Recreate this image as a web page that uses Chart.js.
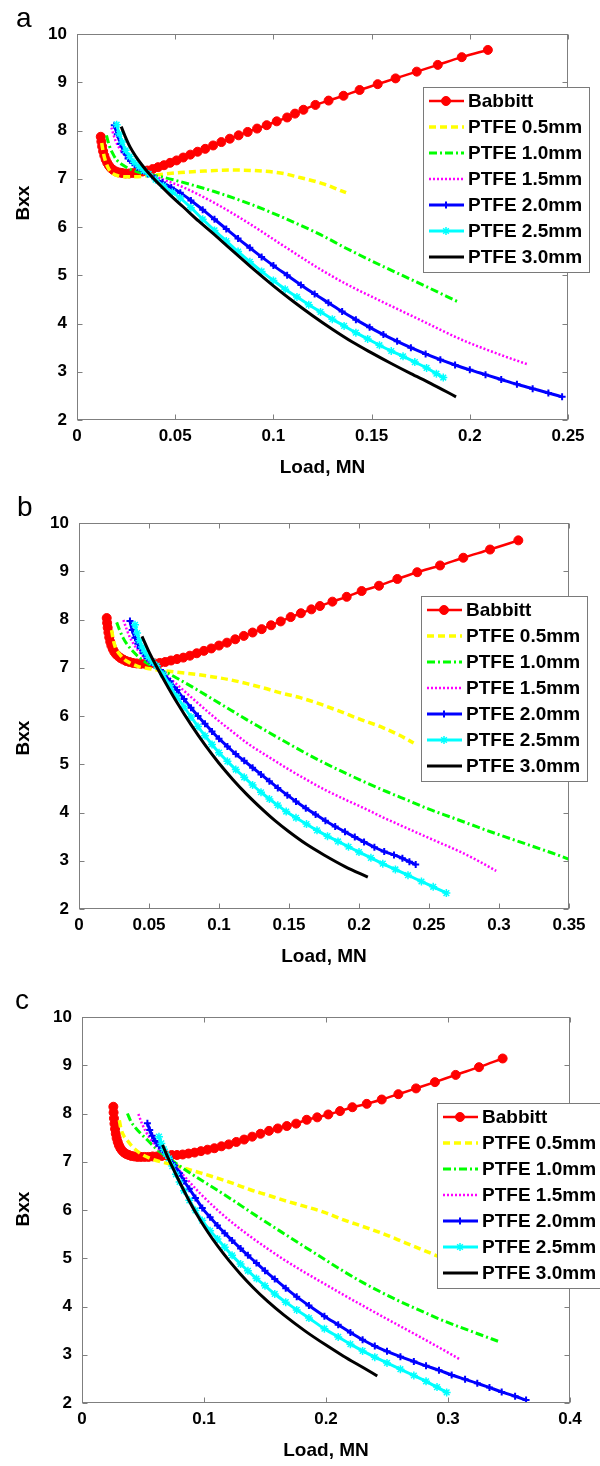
<!DOCTYPE html>
<html>
<head>
<meta charset="utf-8">
<title>Bxx vs Load</title>
<script src="https://cdn.jsdelivr.net/npm/chart.js@4.4.1/dist/chart.umd.min.js"></script>
<style>
  html, body { margin: 0; padding: 0; background: #fff; }
  .panel { position: absolute; left: 0; width: 600px; }
  canvas { display: block; }
</style>
</head>
<body>
<div class="panel" style="top:0px"><canvas id="chart-a" width="600" height="489"></canvas></div>
<div class="panel" style="top:489px"><canvas id="chart-b" width="600" height="489"></canvas></div>
<div class="panel" style="top:978px"><canvas id="chart-c" width="600" height="488"></canvas></div>
<script>
// Series names and tick labels
const seriesNames = ['Babbitt', 'PTFE 0.5mm', 'PTFE 1.0mm', 'PTFE 1.5mm', 'PTFE 2.0mm', 'PTFE 2.5mm', 'PTFE 3.0mm'];
const yTicks = ['2', '3', '4', '5', '6', '7', '8', '9', '10'];
const xTicksA = ['0', '0.05', '0.1', '0.15', '0.2', '0.25'];
const xTicksB = ['0', '0.05', '0.1', '0.15', '0.2', '0.25', '0.3', '0.35'];
const xTicksC = ['0', '0.1', '0.2', '0.3', '0.4'];

// Panel a: [load MN, Bxx]
const babbittA = [[0.0121,7.87],[0.0124,7.77],[0.0128,7.67],[0.0133,7.57],[0.0139,7.48],[0.0146,7.40],[0.0154,7.33],[0.0163,7.27],[0.0173,7.22],[0.0185,7.18],[0.0198,7.15],[0.0213,7.13],[0.0229,7.12],[0.0247,7.11],[0.0266,7.11],[0.0287,7.12],[0.0309,7.13],[0.0333,7.15],[0.0358,7.17],[0.0385,7.20],[0.0413,7.24],[0.0443,7.28],[0.0474,7.33],[0.0507,7.38],[0.0541,7.44],[0.0577,7.50],[0.0614,7.56],[0.0653,7.62],[0.0693,7.69],[0.0735,7.76],[0.0778,7.83],[0.0823,7.90],[0.0869,7.97],[0.0917,8.04],[0.0966,8.11],[0.1017,8.19],[0.1070,8.27],[0.1110,8.35],[0.1153,8.43],[0.1214,8.53],[0.1281,8.62],[0.1357,8.72],[0.1439,8.84],[0.1531,8.96],[0.1622,9.08],[0.1730,9.22],[0.1837,9.36],[0.1959,9.52],[0.2092,9.67]];
const ptfe05A = [[0.0126,7.74],[0.0135,7.52],[0.0148,7.33],[0.0165,7.18],[0.0185,7.10],[0.0210,7.06],[0.0250,7.04],[0.0300,7.04],[0.0355,7.06],[0.0450,7.10],[0.0526,7.13],[0.0650,7.16],[0.0780,7.18],[0.0900,7.17],[0.1036,7.12],[0.1140,7.02],[0.1250,6.90],[0.1370,6.71]];
const ptfe10A = [[0.0150,7.90],[0.0165,7.68],[0.0185,7.50],[0.0202,7.39],[0.0235,7.28],[0.0270,7.20],[0.0310,7.14],[0.0355,7.10],[0.0440,7.03],[0.0526,6.94],[0.0695,6.74],[0.0866,6.50],[0.1036,6.22],[0.1240,5.84],[0.1370,5.56],[0.1560,5.18],[0.1760,4.80],[0.1940,4.45]];
const ptfe15A = [[0.0175,8.06],[0.0195,7.80],[0.0215,7.64],[0.0236,7.52],[0.0270,7.36],[0.0310,7.24],[0.0360,7.12],[0.0440,6.98],[0.0526,6.85],[0.0695,6.51],[0.0866,6.10],[0.1040,5.64],[0.1240,5.12],[0.1370,4.82],[0.1560,4.44],[0.1760,4.05],[0.1950,3.68],[0.2150,3.36],[0.2290,3.16]];
const ptfe20A = [[0.0190,8.11],[0.0205,7.92],[0.0222,7.72],[0.0240,7.55],[0.0260,7.42],[0.0282,7.33],[0.0306,7.24],[0.0332,7.17],[0.0360,7.10],[0.0395,7.01],[0.0435,6.92],[0.0480,6.82],[0.0526,6.71],[0.0580,6.55],[0.0640,6.36],[0.0700,6.16],[0.0760,5.96],[0.0820,5.76],[0.0880,5.57],[0.0940,5.38],[0.1000,5.20],[0.1070,5.00],[0.1140,4.80],[0.1210,4.61],[0.1280,4.43],[0.1350,4.25],[0.1420,4.08],[0.1490,3.92],[0.1560,3.77],[0.1630,3.63],[0.1700,3.50],[0.1775,3.37],[0.1850,3.25],[0.1925,3.14],[0.2000,3.04],[0.2080,2.94],[0.2160,2.84],[0.2240,2.74],[0.2320,2.65],[0.2400,2.56],[0.2470,2.48]];
const ptfe25A = [[0.0202,8.12],[0.0215,7.93],[0.0230,7.76],[0.0248,7.59],[0.0268,7.46],[0.0290,7.34],[0.0315,7.25],[0.0340,7.17],[0.0365,7.10],[0.0400,6.98],[0.0440,6.85],[0.0485,6.72],[0.0526,6.60],[0.0580,6.40],[0.0640,6.16],[0.0700,5.93],[0.0760,5.71],[0.0820,5.49],[0.0880,5.28],[0.0940,5.08],[0.1000,4.89],[0.1060,4.71],[0.1120,4.55],[0.1180,4.39],[0.1240,4.24],[0.1300,4.09],[0.1360,3.95],[0.1420,3.81],[0.1480,3.68],[0.1540,3.55],[0.1600,3.43],[0.1660,3.32],[0.1720,3.20],[0.1780,3.08],[0.1830,2.96],[0.1865,2.88]];
const ptfe30A = [[0.0225,8.08],[0.0245,7.88],[0.0270,7.66],[0.0300,7.46],[0.0330,7.29],[0.0362,7.13],[0.0420,6.88],[0.0480,6.64],[0.0540,6.42],[0.0620,6.12],[0.0700,5.84],[0.0800,5.48],[0.0900,5.12],[0.1000,4.78],[0.1100,4.46],[0.1200,4.16],[0.1300,3.88],[0.1400,3.62],[0.1500,3.39],[0.1600,3.17],[0.1700,2.96],[0.1800,2.76],[0.1930,2.48]];

// Panel b
const babbittB = [[0.0198,8.03],[0.0201,7.93],[0.0205,7.83],[0.0210,7.73],[0.0216,7.63],[0.0223,7.54],[0.0231,7.46],[0.0241,7.39],[0.0252,7.33],[0.0265,7.28],[0.0280,7.24],[0.0297,7.20],[0.0316,7.17],[0.0337,7.14],[0.0360,7.12],[0.0385,7.10],[0.0412,7.09],[0.0441,7.08],[0.0472,7.08],[0.0505,7.08],[0.0540,7.09],[0.0577,7.10],[0.0616,7.12],[0.0657,7.15],[0.0700,7.18],[0.0745,7.21],[0.0792,7.25],[0.0841,7.30],[0.0892,7.35],[0.0945,7.40],[0.1000,7.46],[0.1057,7.52],[0.1116,7.59],[0.1177,7.66],[0.1240,7.73],[0.1305,7.80],[0.1372,7.88],[0.1441,7.96],[0.1512,8.05],[0.1585,8.13],[0.1660,8.21],[0.1721,8.28],[0.1810,8.37],[0.1912,8.47],[0.2019,8.59],[0.2143,8.70],[0.2274,8.84],[0.2416,8.98],[0.2579,9.12],[0.2745,9.28],[0.2936,9.45],[0.3138,9.64]];
const ptfe05B = [[0.0233,7.78],[0.0245,7.58],[0.0260,7.42],[0.0290,7.28],[0.0325,7.17],[0.0364,7.10],[0.0420,7.03],[0.0483,6.99],[0.0600,6.94],[0.0720,6.90],[0.0840,6.86],[0.0960,6.81],[0.1080,6.75],[0.1200,6.67],[0.1320,6.58],[0.1440,6.48],[0.1580,6.38],[0.1720,6.25],[0.1860,6.10],[0.2000,5.94],[0.2170,5.76],[0.2290,5.60],[0.2390,5.44]];
const ptfe10B = [[0.0269,7.94],[0.0290,7.78],[0.0315,7.62],[0.0340,7.50],[0.0385,7.34],[0.0436,7.20],[0.0495,7.08],[0.0555,6.99],[0.0640,6.88],[0.0720,6.75],[0.0840,6.55],[0.0960,6.34],[0.1080,6.13],[0.1200,5.92],[0.1320,5.72],[0.1440,5.52],[0.1600,5.26],[0.1750,5.03],[0.1900,4.82],[0.2050,4.62],[0.2200,4.43],[0.2350,4.25],[0.2500,4.07],[0.2650,3.91],[0.2800,3.75],[0.2950,3.59],[0.3100,3.44],[0.3250,3.29],[0.3380,3.16],[0.3500,3.03]];
const ptfe15B = [[0.0317,7.99],[0.0340,7.80],[0.0365,7.62],[0.0395,7.47],[0.0430,7.33],[0.0470,7.20],[0.0510,7.09],[0.0555,6.99],[0.0640,6.80],[0.0720,6.60],[0.0840,6.29],[0.0960,5.99],[0.1080,5.71],[0.1200,5.44],[0.1350,5.16],[0.1500,4.89],[0.1625,4.68],[0.1750,4.48],[0.1900,4.27],[0.2050,4.07],[0.2170,3.90],[0.2300,3.73],[0.2446,3.54],[0.2580,3.37],[0.2720,3.19],[0.2850,3.00],[0.2980,2.79]];
const ptfe20B = [[0.0364,7.97],[0.0380,7.78],[0.0400,7.62],[0.0420,7.50],[0.0436,7.41],[0.0460,7.30],[0.0485,7.20],[0.0520,7.11],[0.0555,7.03],[0.0600,6.90],[0.0650,6.72],[0.0700,6.54],[0.0750,6.35],[0.0800,6.17],[0.0850,6.00],[0.0900,5.84],[0.0950,5.68],[0.1000,5.53],[0.1060,5.37],[0.1120,5.21],[0.1180,5.07],[0.1240,4.93],[0.1300,4.79],[0.1360,4.65],[0.1420,4.51],[0.1488,4.36],[0.1550,4.23],[0.1620,4.09],[0.1690,3.96],[0.1760,3.83],[0.1830,3.71],[0.1900,3.60],[0.1970,3.49],[0.2036,3.39],[0.2110,3.28],[0.2180,3.19],[0.2250,3.12],[0.2310,3.05],[0.2360,2.98],[0.2405,2.92]];
const ptfe25B = [[0.0400,7.89],[0.0415,7.72],[0.0432,7.56],[0.0450,7.43],[0.0470,7.33],[0.0495,7.22],[0.0525,7.12],[0.0555,7.04],[0.0600,6.86],[0.0650,6.63],[0.0700,6.40],[0.0750,6.19],[0.0800,5.98],[0.0850,5.78],[0.0900,5.59],[0.0950,5.41],[0.1000,5.24],[0.1060,5.06],[0.1120,4.89],[0.1180,4.73],[0.1240,4.57],[0.1300,4.42],[0.1360,4.28],[0.1420,4.15],[0.1480,4.02],[0.1550,3.89],[0.1625,3.76],[0.1700,3.63],[0.1775,3.51],[0.1850,3.40],[0.1925,3.29],[0.2000,3.18],[0.2085,3.06],[0.2170,2.94],[0.2260,2.82],[0.2350,2.70],[0.2446,2.57],[0.2530,2.46],[0.2624,2.33]];
const ptfe30B = [[0.0450,7.65],[0.0500,7.33],[0.0555,7.02],[0.0620,6.68],[0.0700,6.28],[0.0800,5.82],[0.0900,5.40],[0.1000,5.02],[0.1100,4.68],[0.1200,4.37],[0.1300,4.09],[0.1400,3.83],[0.1500,3.60],[0.1625,3.34],[0.1750,3.12],[0.1900,2.88],[0.2063,2.66]];

// Panel c
const babbittC = [[0.0257,8.14],[0.0259,8.02],[0.0262,7.90],[0.0266,7.79],[0.0271,7.68],[0.0277,7.58],[0.0284,7.49],[0.0293,7.41],[0.0303,7.34],[0.0315,7.28],[0.0329,7.23],[0.0345,7.19],[0.0363,7.16],[0.0383,7.14],[0.0405,7.12],[0.0429,7.11],[0.0455,7.10],[0.0483,7.10],[0.0513,7.10],[0.0545,7.10],[0.0579,7.11],[0.0615,7.11],[0.0653,7.12],[0.0693,7.13],[0.0735,7.14],[0.0779,7.14],[0.0825,7.15],[0.0873,7.17],[0.0923,7.19],[0.0975,7.22],[0.1029,7.25],[0.1085,7.28],[0.1143,7.32],[0.1203,7.36],[0.1265,7.41],[0.1329,7.46],[0.1395,7.52],[0.1463,7.58],[0.1533,7.64],[0.1605,7.69],[0.1679,7.74],[0.1755,7.79],[0.1842,7.87],[0.1928,7.92],[0.2019,7.98],[0.2115,8.05],[0.2216,8.13],[0.2334,8.20],[0.2457,8.29],[0.2593,8.40],[0.2738,8.52],[0.2893,8.65],[0.3063,8.80],[0.3254,8.96],[0.3448,9.14]];
const ptfe05C = [[0.0306,7.86],[0.0320,7.68],[0.0340,7.55],[0.0372,7.44],[0.0410,7.32],[0.0480,7.17],[0.0560,7.07],[0.0645,7.00],[0.0740,6.94],[0.0836,6.87],[0.0970,6.77],[0.1110,6.66],[0.1250,6.54],[0.1380,6.42],[0.1520,6.31],[0.1656,6.20],[0.1820,6.08],[0.1987,5.95],[0.2150,5.79],[0.2300,5.66],[0.2457,5.52],[0.2650,5.32],[0.2920,5.04]];
const ptfe10C = [[0.0372,8.00],[0.0400,7.84],[0.0440,7.70],[0.0480,7.59],[0.0540,7.44],[0.0617,7.25],[0.0713,7.07],[0.0836,6.85],[0.0970,6.63],[0.1110,6.41],[0.1250,6.18],[0.1380,5.96],[0.1520,5.73],[0.1656,5.51],[0.1830,5.23],[0.1987,4.98],[0.2144,4.73],[0.2300,4.50],[0.2457,4.29],[0.2610,4.10],[0.2770,3.92],[0.2920,3.75],[0.3080,3.59],[0.3250,3.43],[0.3410,3.28]];
const ptfe15C = [[0.0462,7.99],[0.0490,7.80],[0.0520,7.64],[0.0560,7.47],[0.0610,7.32],[0.0660,7.19],[0.0713,7.07],[0.0836,6.71],[0.0970,6.34],[0.1110,6.00],[0.1250,5.70],[0.1380,5.45],[0.1520,5.20],[0.1656,4.97],[0.1830,4.70],[0.1987,4.47],[0.2144,4.24],[0.2300,4.02],[0.2457,3.80],[0.2610,3.59],[0.2770,3.37],[0.2920,3.16],[0.3100,2.90]];
const ptfe20C = [[0.0536,7.80],[0.0555,7.66],[0.0575,7.54],[0.0600,7.43],[0.0630,7.33],[0.0665,7.22],[0.0713,7.09],[0.0760,6.92],[0.0800,6.76],[0.0836,6.60],[0.0880,6.44],[0.0930,6.25],[0.0986,6.04],[0.1050,5.85],[0.1110,5.68],[0.1170,5.52],[0.1230,5.37],[0.1300,5.20],[0.1360,5.06],[0.1430,4.90],[0.1500,4.74],[0.1580,4.57],[0.1670,4.38],[0.1760,4.20],[0.1860,4.02],[0.1987,3.80],[0.2100,3.62],[0.2200,3.46],[0.2300,3.31],[0.2400,3.18],[0.2500,3.07],[0.2610,2.96],[0.2720,2.86],[0.2820,2.77],[0.2926,2.68],[0.3030,2.58],[0.3140,2.49],[0.3240,2.41],[0.3340,2.32],[0.3440,2.23],[0.3550,2.14],[0.3640,2.06]];
const ptfe25C = [[0.0631,7.52],[0.0650,7.38],[0.0670,7.26],[0.0690,7.16],[0.0713,7.07],[0.0740,6.91],[0.0770,6.74],[0.0800,6.58],[0.0836,6.40],[0.0880,6.20],[0.0930,5.99],[0.0986,5.78],[0.1050,5.57],[0.1110,5.40],[0.1170,5.23],[0.1230,5.06],[0.1300,4.88],[0.1360,4.74],[0.1430,4.58],[0.1500,4.43],[0.1580,4.26],[0.1670,4.09],[0.1760,3.93],[0.1860,3.76],[0.1987,3.54],[0.2100,3.37],[0.2200,3.22],[0.2300,3.08],[0.2400,2.95],[0.2500,2.83],[0.2610,2.70],[0.2720,2.57],[0.2820,2.45],[0.2910,2.33],[0.2989,2.22]];
const ptfe30C = [[0.0660,7.35],[0.0690,7.17],[0.0713,7.04],[0.0760,6.79],[0.0800,6.58],[0.0850,6.33],[0.0900,6.09],[0.0960,5.83],[0.1030,5.55],[0.1110,5.26],[0.1205,4.95],[0.1300,4.67],[0.1400,4.40],[0.1520,4.11],[0.1656,3.82],[0.1830,3.49],[0.2000,3.20],[0.2144,2.97],[0.2300,2.74],[0.2420,2.56]];

// Line styles, same order as seriesNames
const seriesStyle = [
    { color: '#ff0000', width: 2.5, dash: [], point: 'circle', radius: 4.5, pointWidth: 1 },
    { color: '#ffff00', width: 3.5, dash: [7, 4], point: null },
    { color: '#00ff00', width: 3, dash: [8, 3, 2, 3], point: null },
    { color: '#ff00ff', width: 2.5, dash: [2, 2], point: null },
    { color: '#0000ff', width: 3, dash: [], point: 'cross', radius: 3.5, pointWidth: 2 },
    { color: '#00ffff', width: 3, dash: [], point: 'star', radius: 4, pointWidth: 1.5 },
    { color: '#000000', width: 3, dash: [], point: null }
];

const FONT = '"Liberation Sans", Arial, Helvetica, sans-serif';
Chart.defaults.font.family = FONT;

function buildDatasets(series) {
    return series.map(function (pts, i) {
        const st = seriesStyle[i];
        return {
            label: seriesNames[i],
            data: pts.map(p => ({ x: p[0], y: p[1] })),
            showLine: true,
            borderColor: st.color,
            backgroundColor: st.color,
            borderWidth: st.width,
            borderDash: st.dash,
            cubicInterpolationMode: 'monotone',
            pointStyle: st.point || 'circle',
            pointRadius: st.point ? st.radius : 0,
            pointBorderWidth: st.pointWidth || 0,
            pointBackgroundColor: st.color,
            pointBorderColor: st.color,
            order: series.length - i
        };
    });
}

// Frame, inward ticks, axis titles, panel letter and the boxed legend
const panelDecor = {
    id: 'panelDecor',
    afterDatasetsDraw(chart, args, opts) {
        const ctx = chart.ctx;
        const a = chart.chartArea;
        const xs = chart.scales.x, ys = chart.scales.y;
        ctx.save();
        ctx.strokeStyle = '#7f7f7f';
        ctx.lineWidth = 1;
        const L = Math.round(a.left) + 0.5, R = Math.round(a.right) - 0.5;
        const T = Math.round(a.top) + 0.5, B = Math.round(a.bottom) - 0.5;
        ctx.strokeRect(L, T, R - L, B - T);
        ctx.beginPath();
        xs.ticks.forEach(t => {
            const px = Math.round(xs.getPixelForValue(t.value)) + 0.5;
            ctx.moveTo(px, B); ctx.lineTo(px, B - 5);
            ctx.moveTo(px, T); ctx.lineTo(px, T + 5);
        });
        ys.ticks.forEach(t => {
            const py = Math.round(ys.getPixelForValue(t.value)) + 0.5;
            ctx.moveTo(L, py); ctx.lineTo(L + 5, py);
            ctx.moveTo(R, py); ctx.lineTo(R - 5, py);
        });
        ctx.stroke();
        ctx.restore();
    },
    afterDraw(chart, args, opts) {
        const ctx = chart.ctx;
        const a = chart.chartArea;
        ctx.save();
        ctx.fillStyle = '#000';

        // panel letter
        ctx.font = '28px ' + FONT;
        ctx.textAlign = 'left';
        ctx.textBaseline = 'alphabetic';
        ctx.fillText(opts.letter, opts.letterX, opts.letterY);

        // axis titles
        ctx.font = 'bold 19px ' + FONT;
        ctx.textAlign = 'center';
        ctx.textBaseline = 'middle';
        ctx.fillText('Load, MN', (a.left + a.right) / 2, a.bottom + 48);
        ctx.save();
        ctx.translate(24, opts.yTitleY);
        ctx.rotate(-Math.PI / 2);
        ctx.fillText('Bxx', 0, 0);
        ctx.restore();

        // legend
        const lx = opts.legendX, ly = opts.legendY, rowH = 26;
        const n = chart.data.datasets.length;
        const w = 166, h = n * rowH + 3;
        ctx.fillStyle = '#fff';
        ctx.fillRect(lx, ly, w, h);
        ctx.strokeStyle = '#7a7a7a';
        ctx.lineWidth = 1;
        ctx.strokeRect(lx + 0.5, ly + 0.5, w, h);
        chart.data.datasets.forEach((ds, i) => {
            const cy = ly + 14 + i * rowH;
            ctx.save();
            ctx.beginPath();
            ctx.setLineDash(ds.borderDash);
            ctx.lineWidth = ds.borderWidth;
            ctx.strokeStyle = ds.borderColor;
            ctx.moveTo(lx + 6, cy);
            ctx.lineTo(lx + 41, cy);
            ctx.stroke();
            ctx.setLineDash([]);
            if (ds.pointRadius > 0) {
                ctx.fillStyle = ds.pointBackgroundColor;
                ctx.strokeStyle = ds.pointBorderColor;
                ctx.lineWidth = ds.pointBorderWidth;
                Chart.helpers.drawPoint(ctx, {
                    pointStyle: ds.pointStyle,
                    radius: ds.pointRadius,
                    borderWidth: ds.pointBorderWidth,
                    rotation: 0
                }, lx + 23, cy);
            }
            ctx.restore();
            ctx.fillStyle = '#000';
            ctx.font = 'bold 19px ' + FONT;
            ctx.textAlign = 'left';
            ctx.textBaseline = 'middle';
            ctx.fillText(ds.label, lx + 45, cy + 1);
        });
        ctx.restore();
    }
};

function makePanel(id, series, xMax, xStep, xLabels, box, decor) {
    return new Chart(document.getElementById(id), {
        type: 'scatter',
        data: { datasets: buildDatasets(series) },
        options: {
            responsive: false,
            animation: false,
            events: [],
            layout: { padding: { left: 0, top: box.top, right: 600 - box.right, bottom: 0 } },
            scales: {
                x: {
                    type: 'linear',
                    min: 0,
                    max: xMax,
                    afterFit: s => { s.height = box.h - box.bottom; },
                    grid: { display: false, drawTicks: false },
                    border: { display: false },
                    ticks: {
                        stepSize: xStep,
                        autoSkip: false,
                        maxRotation: 0,
                        padding: 6,
                        color: '#000',
                        font: { size: 17, weight: 'bold' },
                        callback: (v, i) => xLabels[i]
                    }
                },
                y: {
                    type: 'linear',
                    min: 2,
                    max: 10,
                    afterFit: s => { s.width = box.left; },
                    grid: { display: false, drawTicks: false },
                    border: { display: false },
                    ticks: {
                        stepSize: 1,
                        autoSkip: false,
                        padding: 10,
                        color: '#000',
                        font: { size: 17, weight: 'bold' },
                        callback: (v, i) => yTicks[i]
                    }
                }
            },
            plugins: {
                legend: { display: false },
                tooltip: { enabled: false },
                panelDecor: decor
            }
        },
        plugins: [panelDecor]
    });
}

makePanel('chart-a',
    [babbittA, ptfe05A, ptfe10A, ptfe15A, ptfe20A, ptfe25A, ptfe30A],
    0.25, 0.05, xTicksA,
    { left: 77, right: 568, top: 34, bottom: 420, h: 489 },
    { letter: 'a', letterX: 16, letterY: 27, yTitleY: 203, legendX: 423, legendY: 87 });

makePanel('chart-b',
    [babbittB, ptfe05B, ptfe10B, ptfe15B, ptfe20B, ptfe25B, ptfe30B],
    0.35, 0.05, xTicksB,
    { left: 79, right: 569, top: 34, bottom: 420, h: 489 },
    { letter: 'b', letterX: 17, letterY: 27, yTitleY: 249, legendX: 421, legendY: 107 });

makePanel('chart-c',
    [babbittC, ptfe05C, ptfe10C, ptfe15C, ptfe20C, ptfe25C, ptfe30C],
    0.4, 0.1, xTicksC,
    { left: 82, right: 570, top: 39, bottom: 425, h: 488 },
    { letter: 'c', letterX: 15, letterY: 31, yTitleY: 231, legendX: 437, legendY: 125 });
</script>
</body>
</html>
